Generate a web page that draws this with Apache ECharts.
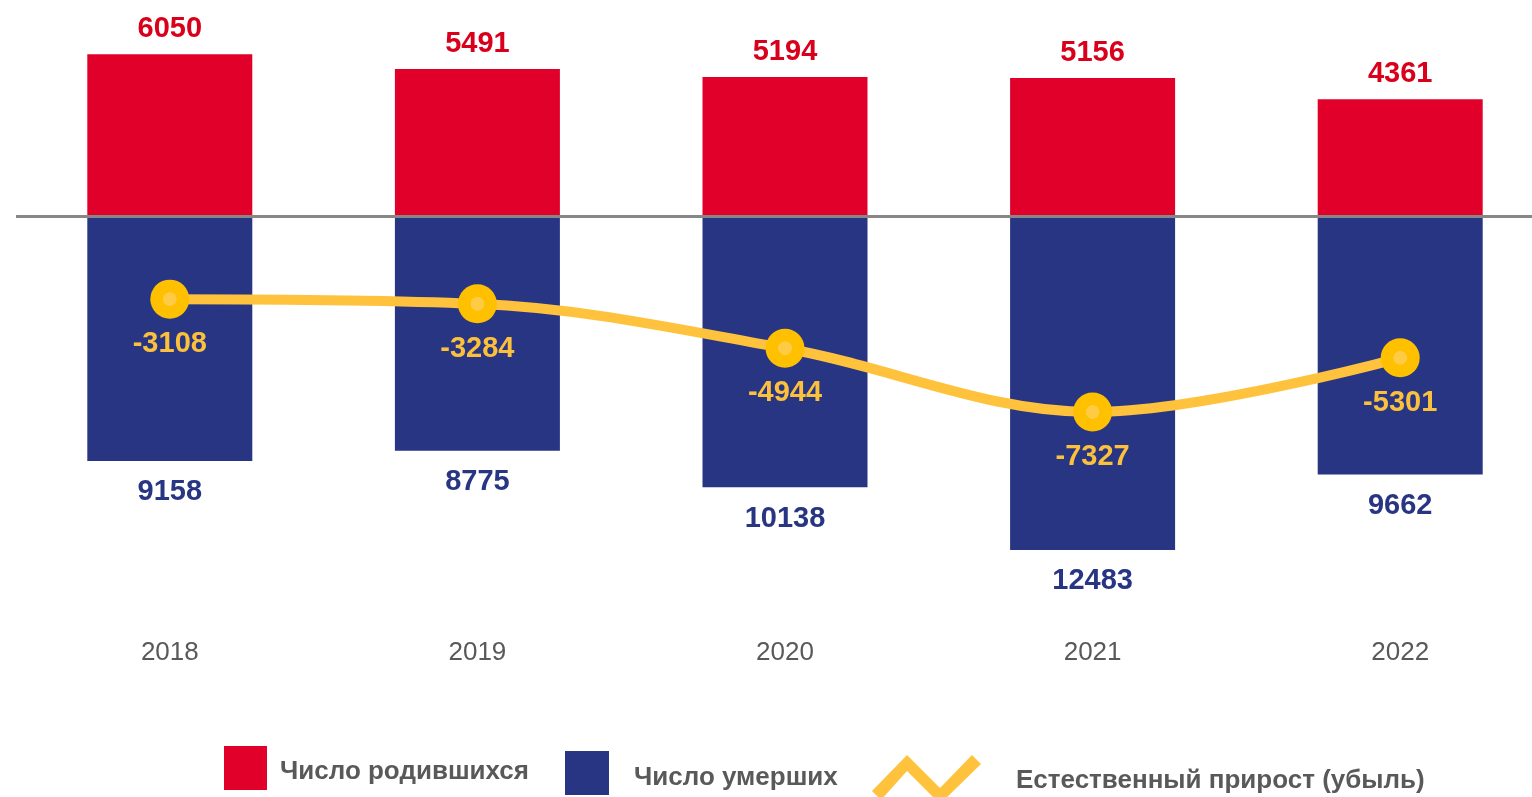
<!DOCTYPE html>
<html><head><meta charset="utf-8">
<script src="https://cdn.jsdelivr.net/npm/echarts@6/dist/echarts.min.js"></script>
<style>html,body{margin:0;padding:0;background:#fff}#c{width:1532px;height:797px}</style>
</head><body><div id="c"></div>
<script>
const years = ['2018','2019','2020','2021','2022'];
const births = [6050, 5491, 5194, 5156, 4361];
const deaths = [9158, 8775, 10138, 12483, 9662];
const natural = [-3108, -3284, -4944, -7327, -5301];
const names = ['Число родившихся','Число умерших','Естественный прирост (убыль)'];

const RED='#E0002A', BLUE='#283583', YEL='#FFC23C', DOT='#FFC000';
const font='"Liberation Sans", Arial, sans-serif';
const chart = echarts.init(document.getElementById('c'));
const legendText = {fontFamily:font, fontSize:26, fontWeight:'bold', color:'#595959'};
function legendStyle(padTop, padLeft){
  return {fontFamily:font, fontSize:26, fontWeight:'bold', color:'#595959', padding:[0,0,0,padLeft],
    rich:{a:Object.assign({padding:[padTop,0,0,0]}, legendText)}};
}
chart.setOption({
  animation:false,
  grid:{left:16, width:1538, top:0, height:638, outerBoundsMode:'none', containLabel:false},
  xAxis:{type:'category', data:years, axisLine:{show:false}, axisTick:{show:false},
    axisLabel:{margin:2, fontFamily:font, fontSize:26, color:'#595959'}},
  yAxis:{type:'value', min:-15776, max:8075, show:false, splitLine:{show:false}},
  legend:[
    {data:[names[0]], left:224, top:746, padding:0, itemWidth:43, itemHeight:44, icon:'rect',
      formatter:'{a|{name}}', textStyle:legendStyle(8,8)},
    {data:[names[1]], left:565, top:751, padding:0, itemWidth:44, itemHeight:44, icon:'rect',
      formatter:'{a|{name}}', textStyle:legendStyle(10,20)},
    {data:[{name:names[2], icon:'path://M0 36 L35 0 L68 33 L100 0 L109 9 L68 49 L35 16 L9 45 Z', itemStyle:{color:YEL, borderWidth:0}}],
      left:872, top:755, padding:0, itemWidth:109, itemHeight:49,
      formatter:'{a|{name}}', textStyle:legendStyle(2,30)}
  ],
  series:[
    {name:names[0], type:'bar', data:births, barWidth:165, barGap:'-100%', itemStyle:{color:RED},
      label:{show:true, position:'top', distance:11, fontFamily:font, fontSize:29, fontWeight:'bold', color:'#D9001B'},
      markLine:{silent:true, symbol:'none', label:{show:false}, lineStyle:{color:'#878787', width:3, type:'solid'}, data:[{yAxis:0}]}},
    {name:names[1], type:'bar', data:deaths.map(v=>-v), barWidth:165, barGap:'-100%', itemStyle:{color:BLUE},
      label:{show:true, position:'bottom', distance:17, fontFamily:font, fontSize:29, fontWeight:'bold', color:BLUE,
        formatter:p=>Math.abs(p.value)}},
    {name:names[2], type:'line', data:natural, smooth:0.35, symbol:'circle', symbolSize:39,
      lineStyle:{color:YEL, width:10},
      itemStyle:{color:new echarts.graphic.RadialGradient(0.5,0.5,0.5,[{offset:0,color:'#FFCB45'},{offset:0.34,color:'#FFCB45'},{offset:0.36,color:DOT},{offset:1,color:DOT}]), borderWidth:0},
      label:{show:true, position:'bottom', distance:11, fontFamily:font, fontSize:29, fontWeight:'bold', color:'#FBC03C'},
      z:5}
  ]
});
</script></body></html>
